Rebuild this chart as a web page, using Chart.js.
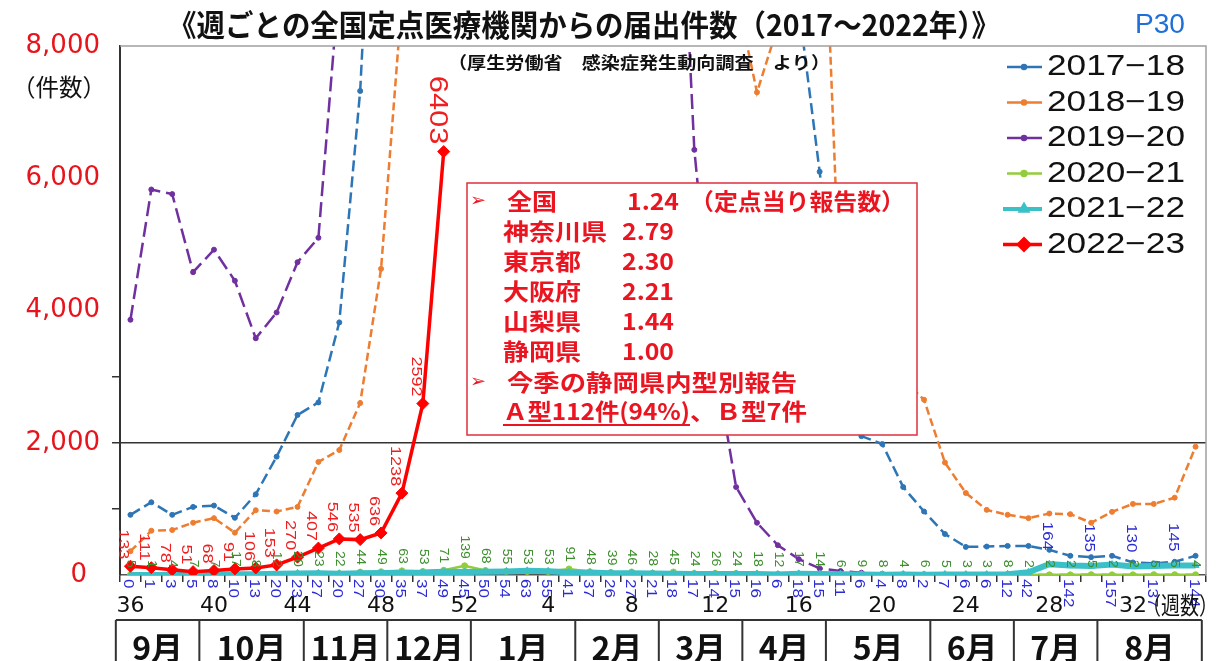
<!DOCTYPE html>
<html>
<head>
<meta charset="utf-8">
<title>週ごとの全国定点医療機関からの届出件数</title>
<script src="https://cdn.jsdelivr.net/npm/chart.js@4.4.1/dist/chart.umd.min.js"></script>
<style>
  html, body { margin: 0; padding: 0; background: #fff; }
  #wrap { position: relative; width: 1227px; height: 661px; }
  canvas { display: block; }
</style>
</head>
<body>
<div id="wrap"><canvas id="fluChart" width="1227" height="661"></canvas></div>
<script>
// 週番号（36週〜翌年35週）
const weeks = [36, 37, 38, 39, 40, 41, 42, 43, 44, 45, 46, 47, 48, 49, 50, 51, 52,
  1, 2, 3, 4, 5, 6, 7, 8, 9, 10, 11, 12, 13, 14, 15, 16, 17, 18, 19, 20,
  21, 22, 23, 24, 25, 26, 27, 28, 29, 30, 31, 32, 33, 34, 35];

const seasonNames = ['2017−18', '2018−19', '2019−20', '2020−21', '2021−22', '2022−23'];

// 8,000件を超える週はグラフ外（推定値）
const s2017 = [910, 1100, 910, 1030, 1050, 865, 1220, 1790, 2420, 2610, 3820, 7320, 13500,
  22000, 35000, 60000, 78000, 95000, 180000, 260000, 283000, 275000, 235000, 185000, 135000,
  95000, 62000, 40000, 26000, 17000, 12500, 10500, 8600, 6100, 3600, 2100, 1980, 1330, 960,
  620, 425, 430, 440, 440, 380, 290, 270, 290, 190, 175, 200, 290];
const s2018 = [360, 670, 680, 790, 860, 640, 980, 960, 1030, 1710, 1890, 2600, 4630, 8700,
  15000, 30000, 50000, 90000, 170000, 250000, 285000, 220000, 140000, 90000, 55000, 33000,
  22000, 15000, 11000, 8800, 7300, 8300, 10000, 12000, 4000, 3600, 3300, 2950, 2650, 1700,
  1240, 985, 910, 860, 930, 920, 790, 955, 1075, 1075, 1170, 1940];
const s2019 = [3860, 5830, 5760, 4580, 4920, 4450, 3580, 3970, 4730, 5100, 9000, 14000, 22000,
  38000, 60000, 95000, 115000, 70000, 90000, 95000, 85000, 70000, 55000, 40000, 28000, 19000,
  13000, 6430, 3200, 1330, 790, 450, 240, 100, 60, 35, 18, 12, 8, 6, 4, 3, 2, 1, 1, 1, 2, 1,
  1, 1, 1, 1];
const s2020 = [5, 1, 4, 7, 7, 17, 8, 12, 20, 23, 22, 44, 49, 63, 53, 71, 139, 68, 55, 53, 53,
  91, 48, 39, 46, 28, 45, 24, 26, 24, 18, 12, 17, 14, 6, 9, 8, 4, 6, 5, 3, 3, 8, 2, 2, 2, 5,
  2, 2, 5, 5, 4];
const s2021 = [0, 1, 3, 5, 8, 10, 13, 20, 23, 27, 20, 27, 30, 35, 37, 49, 45, 50, 54, 63, 55,
  41, 37, 26, 27, 21, 18, 17, 14, 15, 16, 6, 18, 15, 11, 6, 4, 8, 2, 7, 6, 6, 12, 42, 164, 142,
  135, 157, 130, 137, 145, 144];
const s2022 = [133, 111, 78, 51, 68, 91, 106, 153, 270, 407, 546, 535, 636, 1238, 2592, 6403];

// 月の表（各月の週数）
const months = ['9月', '10月', '11月', '12月', '1月', '2月', '3月', '4月', '5月', '6月', '7月', '8月'];
const monthWeeks = [4, 5, 4, 4, 5, 4, 4, 4, 5, 4, 4, 5];

// 定点当り報告数
const prefNames = ['全国', '神奈川県', '東京都', '大阪府', '山梨県', '静岡県'];
const prefValues = ['1.24', '2.79', '2.30', '2.21', '1.44', '1.00'];

const seriesData = [s2017, s2018, s2019, s2020, s2021, s2022];

const styles = [
  { color: '#2e75b6', dash: [11, 5], width: 2.5, point: 'circle', r: 2.5, order: 5 },
  { color: '#ed7d31', dash: [8, 4], width: 2.5, point: 'circle', r: 2.5, order: 4 },
  { color: '#7030a0', dash: [15, 6], width: 2.5, point: 'circle', r: 2.5, order: 3 },
  { color: '#92cd3a', dash: [], width: 2.5, point: 'circle', r: 3, order: 2 },
  { color: '#3cc0c8', dash: [], width: 6, point: 'triangle', r: 4, order: 1 },
  { color: '#ff0000', dash: [], width: 3.5, point: 'rectRot', r: 6, order: 0 }
];

const datasets = seriesData.map((d, i) => ({
  label: seasonNames[i],
  data: d,
  borderColor: styles[i].color,
  backgroundColor: styles[i].color,
  borderWidth: styles[i].width,
  borderDash: styles[i].dash,
  pointStyle: styles[i].point,
  pointRadius: styles[i].r,
  pointBackgroundColor: styles[i].color,
  pointBorderColor: styles[i].color,
  pointBorderWidth: 1,
  tension: 0,
  order: styles[i].order
}));

// 横方向に伸縮して幅に合わせる
function fitText(ctx, text, x, y, w, font, color) {
  ctx.save();
  ctx.font = font;
  ctx.fillStyle = color;
  ctx.textBaseline = 'middle';
  ctx.textAlign = 'left';
  const m = ctx.measureText(text).width;
  ctx.translate(x, y);
  ctx.scale(w / m, 1);
  ctx.fillText(text, 0, 0);
  ctx.restore();
}

// 縦書き（90度回転）のデータラベル
function vLabel(ctx, text, x, y, size, color, above) {
  ctx.save();
  ctx.translate(x, y);
  ctx.rotate(Math.PI / 2);
  ctx.scale(1, 0.85);
  ctx.font = size + 'px "Liberation Sans", Arial, sans-serif';
  ctx.fillStyle = color;
  ctx.textBaseline = 'middle';
  ctx.textAlign = above ? 'right' : 'left';
  ctx.fillText(text, 0, 0);
  ctx.restore();
}

const decorPlugin = {
  id: 'decor',
  afterDatasetsDraw(chart) {
    const ctx = chart.ctx;
    const area = chart.chartArea;

    // 枠線（上・右）
    ctx.save();
    ctx.strokeStyle = '#a0a0a0';
    ctx.lineWidth = 1.5;
    ctx.beginPath();
    ctx.moveTo(area.left, area.top);
    ctx.lineTo(area.right, area.top);
    ctx.lineTo(area.right, area.bottom);
    ctx.stroke();
    ctx.restore();

    // 注記ボックス
    ctx.save();
    ctx.fillStyle = '#fff';
    ctx.fillRect(467, 183, 450, 252);
    ctx.strokeStyle = '#e0303c';
    ctx.lineWidth = 1.5;
    ctx.strokeRect(467, 183, 450, 252);
    ctx.restore();

    const red = '#ea1520';
    const jpBold = 'bold 23px "Noto Sans CJK JP"';
    const arrowFont = '18px "DejaVu Sans"';
    fitText(ctx, '➢', 470, 201, 16, arrowFont, red);
    prefNames.forEach((name, i) => {
      const y = 201 + i * 30;
      const x = i === 0 ? 507 : 503;
      fitText(ctx, name, x, y, name.length * 26 - (i === 0 ? 2 : 0), jpBold, red);
      fitText(ctx, prefValues[i], i === 0 ? 627 : 622, y, 52, jpBold, red);
    });
    fitText(ctx, '（定点当り報告数）', 690, 201, 215, jpBold, red);
    fitText(ctx, '➢', 470, 382, 16, arrowFont, red);
    fitText(ctx, '今季の静岡県内型別報告', 507, 382, 290, jpBold, red);
    fitText(ctx, 'Ａ型112件(94%)', 503, 411, 187, jpBold, red);
    fitText(ctx, '、Ｂ型7件', 690, 411, 117, jpBold, red);
    ctx.save();
    ctx.strokeStyle = red;
    ctx.lineWidth = 2;
    ctx.beginPath();
    ctx.moveTo(503, 425);
    ctx.lineTo(690, 425);
    ctx.stroke();
    ctx.restore();

    // 出典
    fitText(ctx, '（厚生労働省　感染症発生動向調査　より）', 448, 63, 382,
      'bold 17px "Noto Sans CJK JP"', '#111');

    // 凡例
    chart.data.datasets.forEach((ds, i) => {
      const y = 67 + i * 35.5;
      ctx.save();
      ctx.strokeStyle = ds.borderColor;
      ctx.fillStyle = ds.borderColor;
      ctx.lineWidth = Math.min(ds.borderWidth, 4);
      ctx.beginPath();
      ctx.moveTo(i >= 4 ? 1003 : 1007, y);
      ctx.lineTo(1042, y);
      ctx.stroke();
      Chart.helpers.drawPoint(ctx, {
        pointStyle: ds.pointStyle, rotation: 0,
        radius: Math.max(ds.pointRadius - 0.5, 2), borderWidth: 1
      }, 1024, y);
      ctx.restore();
      fitText(ctx, ds.label, 1047, y, 138, '29px "Liberation Sans", Arial, sans-serif', '#111');
    });

    // データラベル
    const labelSets = [
      { ds: 5, color: '#f01e1e', size: 18, dx: -7 },
      { ds: 3, color: '#3c8f2c', size: 14, dx: 0 },
      { ds: 4, color: '#2b2bd6', size: 17, dx: -2 }
    ];
    labelSets.forEach(set => {
      const meta = chart.getDatasetMeta(set.ds);
      const values = chart.data.datasets[set.ds].data;
      let big = 0;
      meta.data.forEach((pt, i) => {
        const v = values[i];
        if (v === null || v === undefined) return;
        if (set.ds === 4) {
          let above = false;
          if (v >= 100) { above = big % 2 === 0; big++; }
          if (above) vLabel(ctx, String(v), pt.x + set.dx, pt.y - 14, set.size, set.color, true);
          else vLabel(ctx, String(v), pt.x + set.dx, Math.max(pt.y, area.bottom) + 4, set.size, set.color, false);
        } else {
          const last = set.ds === 5 && i === values.length - 1;
          vLabel(ctx, String(v), pt.x + (last ? -6 : set.dx), pt.y - 7,
            last ? 31 : set.size, set.color, true);
        }
      });
    });
  },
  afterDraw(chart) {
    const ctx = chart.ctx;
    fitText(ctx, '《週ごとの全国定点医療機関からの届出件数（2017～2022年）》', 168, 25, 832,
      'bold 30px "Noto Sans CJK JP"', '#111');
    fitText(ctx, 'P30', 1135, 25, 50, '28px "Liberation Sans", Arial, sans-serif', '#1f6fd6');
    fitText(ctx, '（件数）', 12, 87, 94, '24px "Noto Sans CJK JP"', '#111');
    fitText(ctx, '（週数）', 1142, 605, 76, '24px "Noto Sans CJK JP"', '#111');

    // 月の表
    const xs = chart.scales.x;
    const step = xs.getPixelForValue(1) - xs.getPixelForValue(0);
    const edges = [xs.getPixelForValue(0) - 0.7 * step];
    let cum = 0;
    monthWeeks.forEach(n => {
      cum += n;
      edges.push(xs.getPixelForValue(cum) - 0.7 * step);
    });
    ctx.save();
    ctx.strokeStyle = '#333';
    ctx.lineWidth = 2;
    ctx.beginPath();
    ctx.moveTo(edges[0], 620);
    ctx.lineTo(edges[edges.length - 1], 620);
    edges.forEach(x => {
      ctx.moveTo(x, 620);
      ctx.lineTo(x, 661);
    });
    ctx.stroke();
    ctx.fillStyle = '#111';
    ctx.font = 'bold 32px "Noto Sans CJK JP"';
    ctx.textAlign = 'center';
    ctx.textBaseline = 'middle';
    months.forEach((m, i) => {
      ctx.fillText(m, (edges[i] + edges[i + 1]) / 2, 648);
    });
    ctx.restore();
  }
};

const ctx = document.getElementById('fluChart').getContext('2d');
new Chart(ctx, {
  type: 'line',
  data: {
    labels: weeks.map(String),
    datasets: datasets
  },
  options: {
    responsive: false,
    devicePixelRatio: 1,
    animation: false,
    layout: { padding: { top: 46, right: 21, left: 0, bottom: 0 } },
    plugins: {
      legend: { display: false },
      title: { display: false },
      tooltip: { enabled: false }
    },
    scales: {
      x: {
        type: 'category',
        offset: true,
        grid: {
          offset: true,
          drawOnChartArea: false,
          tickLength: 7,
          tickColor: '#333',
          lineWidth: 1.5
        },
        border: { display: true, color: '#555', width: 1.5 },
        ticks: {
          autoSkip: false,
          maxRotation: 0,
          minRotation: 0,
          padding: 11,
          color: '#111',
          font: { family: 'DejaVu Sans', size: 22 },
          callback: (v, i) => (i % 4 === 0 ? String(weeks[i]) : '')
        },
        afterFit: (scale) => { scale.height = 86; }
      },
      y: {
        min: 0,
        max: 8000,
        ticks: {
          stepSize: 1000,
          padding: 12,
          color: '#e8141c',
          font: { family: 'DejaVu Sans', size: 26 },
          callback: (v) => {
            if (v % 2000 !== 0) return '';
            if (v === 0) return '0\u2002';
            return v.toString().replace(/\B(?=(\d{3})+(?!\d))/g, ',');
          }
        },
        grid: {
          color: (c) => (c.tick && c.tick.value === 2000 ? '#333' : 'rgba(0,0,0,0)'),
          lineWidth: 1.5,
          tickLength: 8,
          tickColor: (c) => (c.tick && c.tick.value > 0 && c.tick.value <= 3000 ? '#333' : 'rgba(0,0,0,0)')
        },
        border: { display: true, color: '#333', width: 2 },
        afterFit: (scale) => { scale.width = 120; }
      }
    }
  },
  plugins: [decorPlugin]
});
</script>
</body>
</html>
